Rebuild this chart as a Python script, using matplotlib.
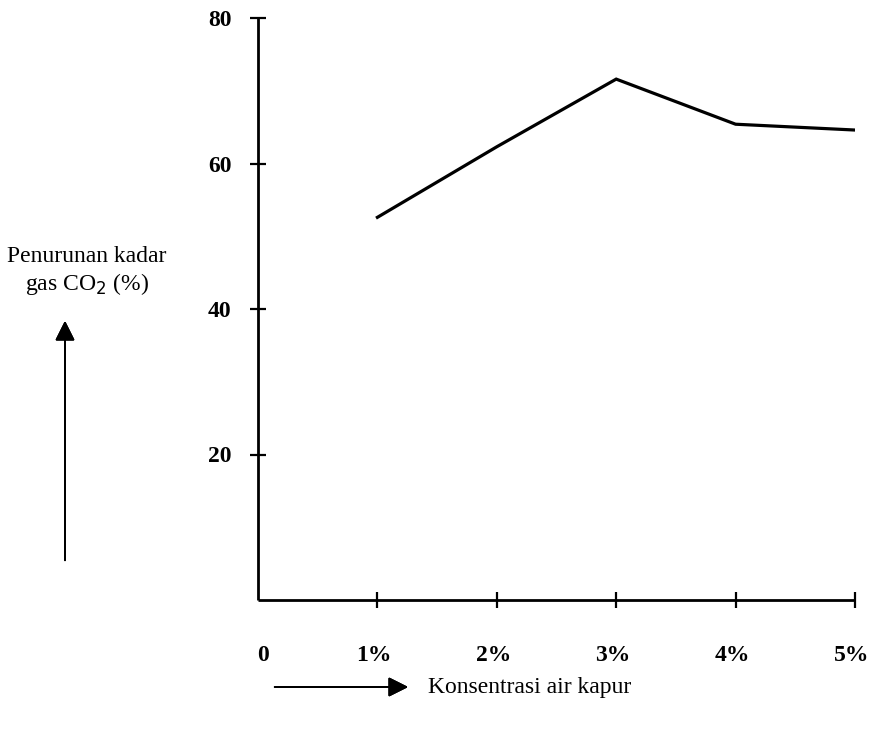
import matplotlib.pyplot as plt

# data
konsentrasi = [1, 2, 3, 4, 5]
penurunan_co2 = [52.6, 62.3, 71.6, 65.4, 64.6]
x_ticks = [0, 1, 2, 3, 4, 5]
x_labels = ["0", "1%", "2%", "3%", "4%", "5%"]
y_ticks = [20, 40, 60, 80]

W, H = 874, 730
plt.rcParams['font.family'] = ['Liberation Serif', 'DejaVu Serif']

fig = plt.figure(figsize=(W / 100, H / 100), dpi=100)
ax = fig.add_axes([258 / W, 1 - 600 / H, (855 - 258) / W, (600 - 18) / H])

ax.plot(konsentrasi, penurunan_co2, color='black', lw=2.3, solid_joinstyle='miter')

ax.set_xlim(0, 5)
ax.set_ylim(0, 80)
for s in ['top', 'right']:
    ax.spines[s].set_visible(False)
for s in ['left', 'bottom']:
    ax.spines[s].set_linewidth(2.0)
    ax.spines[s].set_capstyle('butt')

ax.set_xticks(x_ticks[1:])
ax.set_xticklabels([])
ax.set_yticks(y_ticks)
ax.set_yticklabels([str(v) for v in y_ticks], fontsize=17, fontweight='bold')
ax.tick_params(axis='both', direction='inout', length=12, width=1.6)
ax.tick_params(axis='y', pad=13)

# x labels sit well below the axis
for xv, lab in zip(x_ticks, x_labels):
    off = 0.04 if xv == 0 else -0.03
    ax.text(xv + off, -7.6, lab, ha='center', va='center', fontsize=17,
            fontweight='bold', transform=ax.transData, clip_on=False)

# y-axis caption and arrow
fig.text(87 / W, 1 - 262 / H, "Penurunan kadar", ha='center', va='baseline', fontsize=17)
fig.text(87 / W, 1 - 290 / H, r"gas CO$_2$ (%)", ha='center', va='baseline', fontsize=17)
arrow_kw = dict(arrowstyle='-|>, head_length=0.6, head_width=0.3', color='black', lw=1.4,
                mutation_scale=20)
fig.add_artist(plt.annotate("", xy=(65 / W, 1 - 318 / H), xytext=(65 / W, 1 - 563 / H),
                            xycoords='figure fraction', textcoords='figure fraction',
                            arrowprops=arrow_kw))

# x-axis caption and arrow
fig.add_artist(plt.annotate("", xy=(411 / W, 1 - 687 / H), xytext=(272 / W, 1 - 687 / H),
                            xycoords='figure fraction', textcoords='figure fraction',
                            arrowprops=arrow_kw))
fig.text(428 / W, 1 - 688 / H, "Konsentrasi air kapur", ha='left', va='center', fontsize=17)

fig.savefig("out.png", dpi=100)
